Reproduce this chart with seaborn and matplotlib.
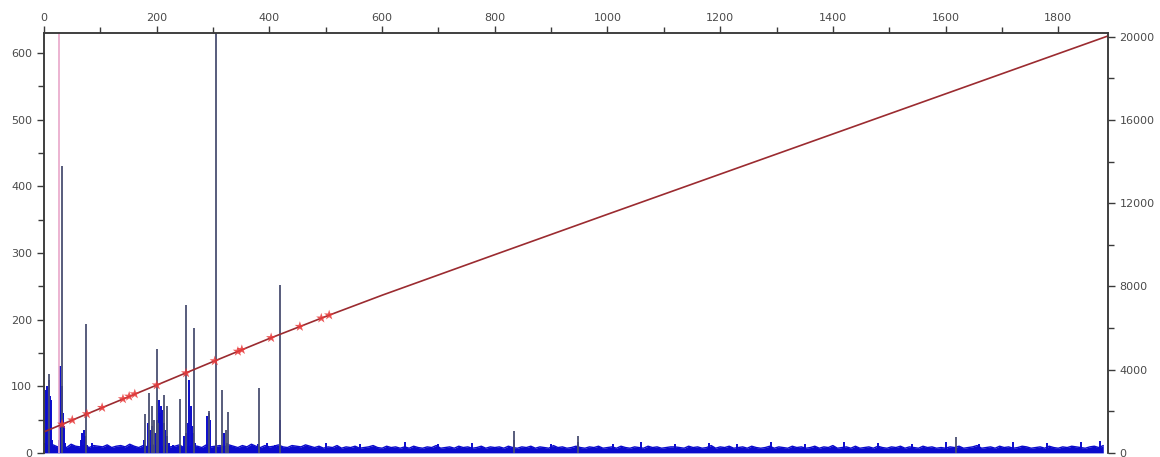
import matplotlib
matplotlib.use("Agg")
import matplotlib.pyplot as plt
import numpy as np
import seaborn as sns
from matplotlib.ticker import MultipleLocator

# spectrum baseline, one value per block of 8 channels (left axis counts)
baseline_step = 8
baseline = [14, 10, 12, 9, 11, 8, 13, 10, 9, 12, 8, 11, 10, 9, 12, 8, 10, 11, 9, 13,
            10, 8, 11, 9, 12, 10, 8, 11, 9, 10, 12, 8, 9, 11, 10, 8, 12, 9, 10, 11,
            9, 12, 10, 8, 11, 9, 13, 10, 8, 11, 9, 10, 12, 9, 8, 11, 10, 9, 12, 10,
            8, 10, 7, 9, 8, 11, 7, 9, 8, 10, 7, 8, 9, 11, 8, 7, 10, 8, 9, 7,
            9, 7, 10, 8, 7, 9, 8, 11, 7, 8, 9, 7, 10, 8, 9, 7, 8, 10, 7, 9,
            8, 9, 7, 10, 8, 7, 9, 8, 10, 7, 9, 8, 7, 11, 8, 9, 7, 8, 10, 8,
            7, 9, 8, 10, 7, 8, 9, 7, 10, 8, 7, 9, 8, 7, 10, 8, 9, 7, 8, 9,
            9, 8, 7, 10, 8, 9, 7, 8, 11, 7, 9, 8, 10, 7, 8, 9, 7, 10, 8, 7,
            8, 10, 7, 9, 8, 7, 10, 8, 9, 7, 8, 10, 7, 9, 8, 11, 7, 8, 9, 7,
            10, 7, 8, 9, 7, 10, 8, 7, 9, 8, 10, 7, 9, 8, 7, 10, 8, 9, 7, 8,
            7, 9, 8, 10, 7, 8, 9, 11, 7, 8, 9, 7, 10, 8, 9, 7, 8, 10, 9, 7,
            8, 9, 7, 10, 8, 7, 9, 8, 10, 9, 8, 7, 9, 10, 8, 11]

# broad blue peaks of the spectrum (channel, counts)
blue_ch = [4, 6, 8, 10, 12, 14, 26, 28, 29, 31, 33, 35, 38,
           66, 68, 70, 72, 76, 85,
           178, 184, 188, 192, 196, 200, 204, 206, 208, 210, 212, 215, 218, 222, 228,
           248, 252, 256, 258, 260, 262, 264, 268,
           290, 292, 294, 306, 320, 325, 380, 395, 410, 418,
           500, 560, 640, 700, 760, 834, 900, 948, 1010, 1060, 1120, 1180, 1230, 1290,
           1350, 1420, 1480, 1540, 1600, 1660, 1720, 1780, 1840, 1875]
blue_cnt = [95, 100, 110, 85, 80, 20, 20, 60, 130, 100, 60, 40, 15,
            20, 30, 35, 25, 12, 15,
            20, 45, 35, 40, 30, 50, 80, 60, 70, 65, 45, 35, 25, 15, 12,
            25, 30, 45, 110, 70, 40, 30, 15,
            55, 60, 50, 20, 30, 15, 14, 15, 12, 50,
            15, 14, 16, 13, 15, 19, 14, 17, 13, 16, 14, 15, 13, 16,
            14, 17, 15, 14, 16, 13, 17, 15, 16, 18]

# identified lines (dark sticks)
line_ch = [9, 31, 74, 180, 186, 191, 195, 200, 203, 213, 219, 241, 252, 266,
           293, 306, 315, 323, 327, 381, 418, 834, 948, 1619]
line_cnt = [119, 430, 194, 58, 90, 70, 50, 156, 45, 87, 70, 81, 222, 187,
            63, 700, 94, 35, 62, 98, 252, 33, 25, 24]

marker_ch = 27

# calibration curve (right axis)
calib_ch = [0, 100, 200, 300, 400, 500, 600, 800, 1000, 1200, 1400, 1600, 1888]
calib_val = [1012, 2140, 3260, 4390, 5500, 6560, 7580, 9530, 11470, 13400, 15330, 17260, 20040]
calib_pts_ch = [32, 50, 76, 103, 140, 151, 161, 200, 252, 303, 344, 351, 403, 454, 492, 506]
calib_pts_val = [1374, 1577, 1871, 2176, 2594, 2718, 2831, 3260, 3840, 4420, 4880, 4960,
                 5532, 6072, 6475, 6624]

sns.set_style("ticks")
plt.rcParams["font.family"] = ["DejaVu Sans"]

fig = plt.figure(figsize=(11.6, 4.57), dpi=100)
ax = fig.add_axes([0.038, 0.009, 0.917, 0.919])

base_x = np.arange(len(baseline)) * baseline_step
ax.fill_between(base_x, 0, baseline, color="#0b0bcc", lw=0)
sns.lineplot(x=base_x, y=baseline, ax=ax, color="#0b0bcc", lw=1)
ax.vlines(blue_ch, 0, blue_cnt, color="#0b0bcc", lw=1.4)
ax.vlines(line_ch, 0, line_cnt, color="#4a4f72", lw=1.3)
ax.axvline(marker_ch, color="#e9a7c9", lw=1.2)

ax.set_xlim(0, 1888)
ax.set_ylim(0, 630)
ax.xaxis.tick_top()
ax.xaxis.set_major_locator(MultipleLocator(200))
ax.xaxis.set_minor_locator(MultipleLocator(100))
ax.yaxis.set_major_locator(MultipleLocator(100))
ax.yaxis.set_minor_locator(MultipleLocator(50))
ax.spines["bottom"].set_visible(False)

ax2 = ax.twinx()
sns.lineplot(x=calib_ch, y=calib_val, ax=ax2, color="#9b2b30", lw=1.2)
sns.scatterplot(x=calib_pts_ch, y=calib_pts_val, ax=ax2, marker="*", s=60,
                color="#e83a3a", edgecolor="none", alpha=0.85, zorder=5)
ax2.set_ylim(0, 20190)
ax2.yaxis.set_major_locator(MultipleLocator(4000))
ax2.yaxis.set_minor_locator(MultipleLocator(2000))
ax2.spines["bottom"].set_visible(False)

for a in (ax, ax2):
    for s in a.spines.values():
        s.set_color("#3a3a3a")
        s.set_linewidth(1.1)
    a.tick_params(which="major", length=5, width=1, color="#3a3a3a",
                  labelsize=8, labelcolor="#4a4a4a")
    a.tick_params(which="minor", length=4, width=1, color="#3a3a3a")
    a.set_xlabel("")
    a.set_ylabel("")
ax.tick_params(axis="x", which="both", pad=2)

fig.savefig("out.png", dpi=100)
